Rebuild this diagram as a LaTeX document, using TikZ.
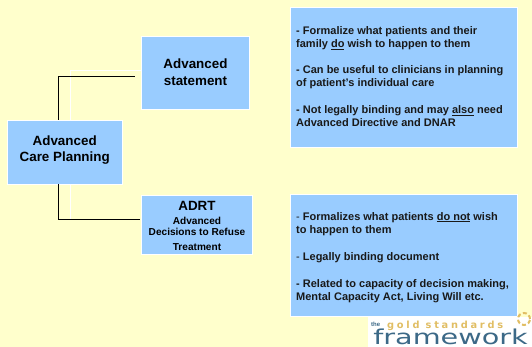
\documentclass[tikz,border=0pt]{standalone}
\usepackage{fontspec}
\setmainfont{Liberation Sans}
\newfontfamily\goldfont[LetterSpace=28]{DejaVu Sans}
\newfontfamily\workfont{DejaVu Sans}
\definecolor{bgy}{RGB}{255,255,204}
\definecolor{boxb}{RGB}{153,204,255}
\definecolor{logob}{RGB}{60,105,135}
\definecolor{logog}{RGB}{225,190,100}
\tikzset{
  bluebox/.style={fill=boxb,draw=white,line width=0.6pt,anchor=center,inner sep=0pt},
  conn/.style={draw=black,line width=0.9pt},
  ghost/.style={draw=white,line width=0.8pt},
  head/.style={align=center,inner sep=0pt,font=\bfseries\fontsize{13.4}{16.5}\selectfont},
  small/.style={align=center,inner sep=0pt,font=\bfseries\fontsize{10.1}{11.5}\selectfont},
  txt/.style={text=black!90,align=left,anchor=north west,inner sep=0pt}
}
\newcommand{\ul}[1]{\underline{#1}}
\begin{document}
\begin{tikzpicture}[x=1pt,y=-1pt]
\useasboundingbox (0,0) rectangle (532,347);
\fill[bgy] (0,0) rectangle (532,347);
% pale lines behind
\coordinate (g1) at (70,70.5);
\coordinate (g2) at (142,70.5);
\coordinate (g3) at (70,219);
\draw[ghost] (g2) -- (g1) -- (g3);
% boxes
\node[bluebox,minimum width=107.5pt,minimum height=73pt] (stmt) at (195.5,72.5) {};
\node[head] (stmtt) at (195.5,72) {Advanced\\statement};
\node[bluebox,minimum width=114.5pt,minimum height=64pt] (acp) at (64.7,152) {};
\node[head] (acpt) at (64.7,150) {Advanced\\Care Planning};
\node[bluebox,minimum width=110.5pt,minimum height=59pt] (adrt) at (197,224.5) {};
\node[head] (adrt1) at (197,206) {ADRT};
\node[small] (adrt2) at (197,226.5) {Advanced\\Decisions to Refuse};
\node[small] (adrt3) at (197,247) {Treatment};
\node[bluebox,minimum width=227pt,minimum height=139.5pt] (b1) at (403.5,77.5) {};
\node[bluebox,minimum width=227pt,minimum height=122pt] (b2) at (403.5,255) {};
% connectors
\coordinate (c1) at (135,76);
\coordinate (c2) at (140,219);
\draw[conn] (acp.north -| 58,0) |- (c1);
\draw[conn] (acp.south -| 58,0) |- (c2);
% texts
\node[txt,font=\bfseries\fontsize{11}{13}\selectfont] (t1) at (296,26.5) {- Formalize what patients and their\\family \ul{do} wish to happen to them\\[13.3pt]- Can be useful to clinicians in planning\\of patient’s individual care\\[13.3pt]- Not legally binding and may \ul{also} need\\Advanced Directive and DNAR};
\node[txt,font=\bfseries\fontsize{11}{13.3}\selectfont] (t2) at (296,212) {{\mdseries -} Formalizes what patients \ul{do not} wish\\to happen to them\\[13.5pt]{\mdseries -} Legally binding document\\[13.5pt]- Related to capacity of decision making,\\Mental Capacity Act, Living Will etc.};
% logo
\fill[white] (368,317) rectangle (532,347);
\node[inner sep=0pt,anchor=base west,text=logob,font=\bfseries\fontsize{6}{6}\selectfont] (lthe) at (371,326) {the};
\node[inner sep=0pt,anchor=base west,text=logog,font=\goldfont\bfseries\fontsize{9.8}{10}\selectfont] (lgold) at (387,328) {gold standards};
\node[inner sep=0pt,anchor=base west,text=logob,font=\workfont\fontsize{20.5}{21}\selectfont,xscale=1.4] (lfw) at (373,344.5) {framework};
\draw[logog,line width=2pt,dash pattern=on 4pt off 2.5pt] (524,319) circle (6pt);
\end{tikzpicture}
\end{document}
